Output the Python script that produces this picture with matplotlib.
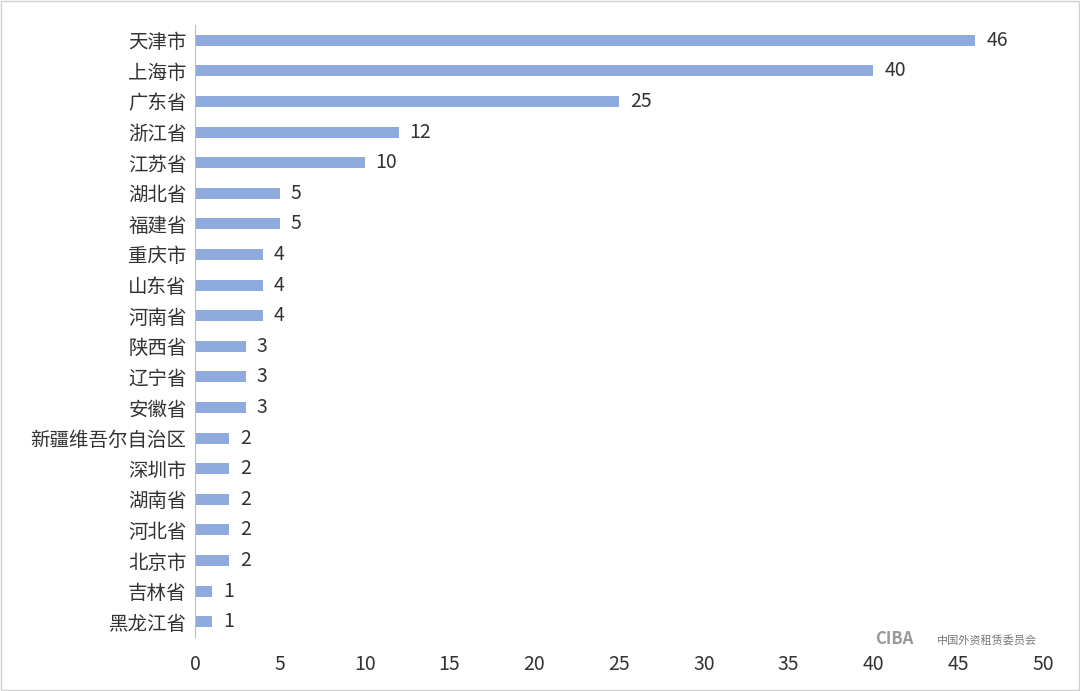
import matplotlib.pyplot as plt

plt.rcParams['font.family'] = ['Noto Sans CJK SC', 'DejaVu Sans']

regions = ['天津市', '上海市', '广东省', '浙江省', '江苏省', '湖北省', '福建省', '重庆市',
           '山东省', '河南省', '陕西省', '辽宁省', '安徽省', '新疆维吾尔自治区', '深圳市',
           '湖南省', '河北省', '北京市', '吉林省', '黑龙江省']
counts = [46, 40, 25, 12, 10, 5, 5, 4, 4, 4, 3, 3, 3, 2, 2, 2, 2, 2, 1, 1]

fig = plt.figure(figsize=(10.8, 6.91), dpi=100)
ax = fig.add_axes([0.1806, 0.078, 0.7851, 0.886])

ypos = list(range(len(regions)))[::-1]
ax.barh(ypos, counts, height=0.36, color='#8FAADC')
for y, v in zip(ypos, counts):
    ax.text(v + 0.65, y, str(v), va='center', ha='left', fontsize=14, color='#333333')

ax.set_yticks(ypos)
ax.set_yticklabels(regions, fontsize=14, color='#333333')
ax.set_xlim(0, 50)
ax.set_ylim(-0.5, len(regions) - 0.5)
ax.set_xticks(range(0, 51, 5))
ax.tick_params(axis='x', labelsize=14, colors='#333333', length=0, pad=12)
ax.tick_params(axis='y', length=0, pad=6)
for s in ['top', 'right', 'bottom']:
    ax.spines[s].set_visible(False)
ax.spines['left'].set_color('#BFBFBF')

fig.text(0.81, 0.068, 'CIBA', fontsize=12, color='#999999', fontweight='bold', style='italic')
fig.text(0.868, 0.068, '中国外资租赁委员会', fontsize=8, color='#777777')

fig.patches.append(plt.Rectangle((0.001, 0.001), 0.998, 0.998, transform=fig.transFigure,
                                 fill=False, edgecolor='#D0D0D0', linewidth=1))

fig.savefig('out.png', dpi=100)
